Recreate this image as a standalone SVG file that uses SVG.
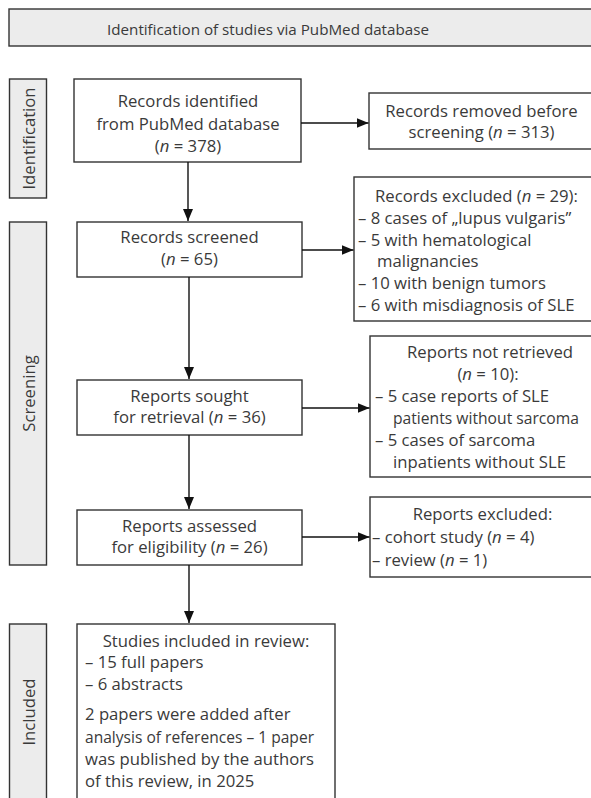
<svg xmlns="http://www.w3.org/2000/svg" width="591" height="798" viewBox="0 0 591 798">
<defs>
<marker id="ah" viewBox="0 0 12 10" refX="12" refY="5" markerWidth="12" markerHeight="10" markerUnits="userSpaceOnUse" orient="auto">
<path d="M0,0 L12,5 L0,10 Z" fill="#111"/>
</marker>
<style>
.box{fill:#fff;stroke:#333;stroke-width:1.4}
.side{fill:#ececec;stroke:#333;stroke-width:1.4}
text{font-family:"Open Sans","Noto Sans",sans-serif;font-size:16.7px;fill:#3a3a3a}
.h{font-size:15.2px}
.c{text-anchor:middle}
.i{font-style:italic}
.con{stroke:#111;stroke-width:1.4;fill:none;marker-end:url(#ah)}
</style>
</defs>
<g id="header">
<rect class="side" x="9" y="9" width="600" height="37"/>
<text class="c h" x="268" y="35">Identification of studies via PubMed database</text>
</g>
<g id="side-identification">
<rect class="side" x="9.5" y="79" width="37" height="119"/>
<text class="c" transform="translate(35,138.5) rotate(-90)">Identification</text>
</g>
<g id="side-screening">
<rect class="side" x="9.5" y="222" width="37" height="343"/>
<text class="c" transform="translate(35,393.5) rotate(-90)">Screening</text>
</g>
<g id="side-included">
<rect class="side" x="9.5" y="624" width="37" height="200"/>
<text class="c" transform="translate(35,712) rotate(-90)">Included</text>
</g>
<g id="records-identified">
<rect class="box" x="74" y="79" width="227" height="83"/>
<text class="c" x="188" y="107">Records identified</text>
<text class="c" x="188" y="129.5">from PubMed database</text>
<text class="c" x="188" y="152">(<tspan class="i">n</tspan> = 378)</text>
</g>
<g id="records-removed">
<rect class="box" x="369" y="93" width="240" height="56"/>
<text class="c" x="481.5" y="117">Records removed before</text>
<text class="c" x="481.5" y="138">screening (<tspan class="i">n</tspan> = 313)</text>
</g>
<g id="records-screened">
<rect class="box" x="77" y="222" width="225" height="55"/>
<text class="c" x="189.5" y="243">Records screened</text>
<text class="c" x="189.5" y="265">(<tspan class="i">n</tspan> = 65)</text>
</g>
<g id="records-excluded">
<rect class="box" x="354" y="177" width="260" height="144"/>
<text class="c" x="476.5" y="202">Records excluded (<tspan class="i">n</tspan> = 29):</text>
<text x="358" y="224">– 8 cases of „lupus vulgaris”</text>
<text x="358" y="246">– 5 with hematological</text>
<text x="377" y="267">malignancies</text>
<text x="358" y="289">– 10 with benign tumors</text>
<text x="358" y="311">– 6 with misdiagnosis of SLE</text>
</g>
<g id="reports-sought">
<rect class="box" x="77" y="380" width="225" height="55"/>
<text class="c" x="189.5" y="402">Reports sought</text>
<text class="c" x="189.5" y="423">for retrieval (<tspan class="i">n</tspan> = 36)</text>
</g>
<g id="reports-not-retrieved">
<rect class="box" x="370" y="336" width="240" height="141"/>
<text class="c" x="490" y="358">Reports not retrieved</text>
<text class="c" x="488" y="380">(<tspan class="i">n</tspan> = 10):</text>
<text x="375" y="402">– 5 case reports of SLE</text>
<text x="393" y="424" textLength="186" lengthAdjust="spacingAndGlyphs">patients without sarcoma</text>
<text x="375" y="446">– 5 cases of sarcoma</text>
<text x="393" y="468">inpatients without SLE</text>
</g>
<g id="reports-assessed">
<rect class="box" x="77" y="510" width="225" height="55"/>
<text class="c" x="189.5" y="532">Reports assessed</text>
<text class="c" x="189.5" y="553">for eligibility (<tspan class="i">n</tspan> = 26)</text>
</g>
<g id="reports-excluded">
<rect class="box" x="370" y="497" width="240" height="80"/>
<text class="c" x="482.5" y="520">Reports excluded:</text>
<text x="372" y="543">– cohort study (<tspan class="i">n</tspan> = 4)</text>
<text x="372" y="566">– review (<tspan class="i">n</tspan> = 1)</text>
</g>
<g id="studies-included">
<rect class="box" x="77" y="624" width="258" height="200"/>
<text class="c" x="206" y="647">Studies included in review:</text>
<text x="85" y="668">– 15 full papers</text>
<text x="85" y="690">– 6 abstracts</text>
<text x="85" y="720">2 papers were added after</text>
<text x="85" y="743" textLength="229" lengthAdjust="spacingAndGlyphs">analysis of references – 1 paper</text>
<text x="85" y="765">was published by the authors</text>
<text x="85" y="787">of this review, in 2025</text>
</g>
<g id="connectors">
<line class="con" x1="188" y1="162" x2="188" y2="221"/>
<line class="con" x1="301" y1="123" x2="368.5" y2="123"/>
<line class="con" x1="302" y1="250" x2="353.5" y2="250"/>
<line class="con" x1="189" y1="277" x2="189" y2="379"/>
<line class="con" x1="302" y1="408" x2="369.5" y2="408"/>
<line class="con" x1="189" y1="435" x2="189" y2="509"/>
<line class="con" x1="302" y1="537" x2="369.5" y2="537"/>
<line class="con" x1="189" y1="565" x2="189" y2="623"/>
</g>
</svg>
